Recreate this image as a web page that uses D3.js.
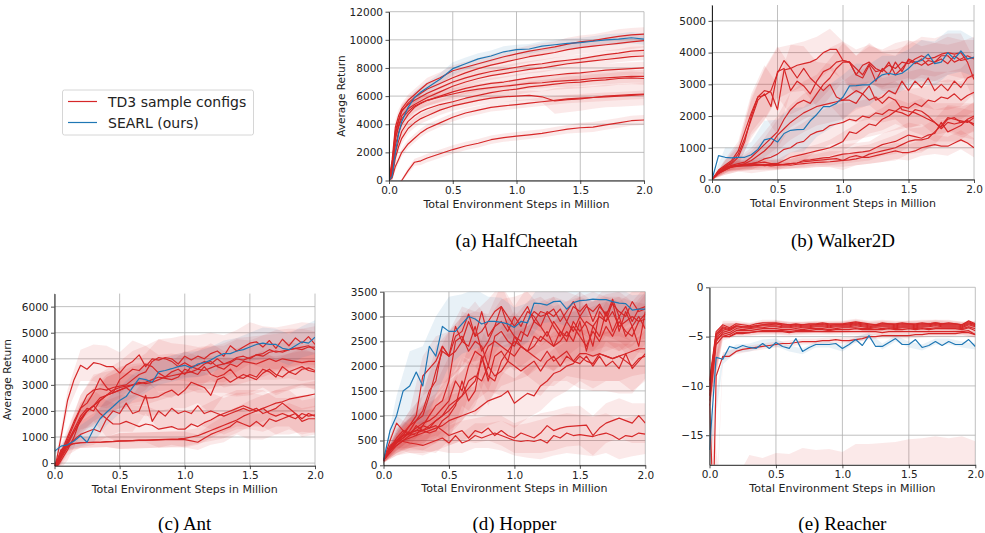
<!DOCTYPE html>
<html><head><meta charset="utf-8">
<script src="https://cdn.jsdelivr.net/npm/d3@7"></script>
<style>body{margin:0;background:#fff}svg{display:block}</style>
</head><body><svg id="c" width="985" height="533"></svg>
<script>
// ---------------- DATA ----------------
const xTicks = [0, 0.5, 1.0, 1.5, 2.0];
const hcX = [0,0.025,0.05,0.075,0.1,0.15,0.2,0.25,0.3,0.4,0.5,0.6,0.7,0.8,0.9,1.0,1.1,1.2,1.3,1.4,1.5,1.6,1.7,1.8,1.9,2.0];
const gridX = [0,0.05,0.1,0.15,0.2,0.25,0.3,0.35,0.4,0.45,0.5,0.55,0.6,0.65,0.7,0.75,0.8,0.85,0.9,0.95,1.0,1.05,1.1,1.15,1.2,1.25,1.3,1.35,1.4,1.45,1.5,1.55,1.6,1.65,1.7,1.75,1.8,1.85,1.9,1.95,2.0];

// (a) HalfCheetah
const hcYTicks = [0,2000,4000,6000,8000,10000,12000];
const hcBlue = [0,300,2000,3300,4200,5200,5900,6300,6600,7200,7950,8300,8650,8850,9150,9300,9350,9550,9650,9750,9800,9900,10000,10050,10150,10050];
const hcBlueStd = [0,300,400,400,400,400,400,400,400,400,450,450,400,400,400,350,350,350,350,350,350,350,400,400,400,400];
const hcRed = [
 [0,1500,3800,4600,5100,5700,6100,6500,6900,7300,7800,8050,8300,8550,8800,9000,9200,9350,9500,9700,9850,9950,10100,10250,10350,10400],
 [0,1200,3500,4300,4900,5500,5900,6200,6500,6900,7300,7650,7950,8200,8400,8600,8800,8950,9100,9300,9450,9550,9650,9750,9850,9950],
 [0,1000,3300,4200,5000,5400,5700,5950,6200,6600,7000,7300,7550,7750,7900,8050,8200,8300,8450,8550,8650,8800,8950,9050,9200,9250],
 [0,800,3000,3900,4600,5100,5400,5650,5900,6300,6700,7000,7250,7450,7600,7750,7900,8000,8150,8300,8400,8500,8600,8700,8800,8850],
 [0,700,3000,3800,4400,4900,5300,5500,5700,6000,6300,6550,6750,6900,7000,7150,7300,7400,7500,7600,7650,7750,7850,7900,7950,8000],
 [0,500,2500,3400,4000,4700,5200,5500,5700,5950,6150,6350,6500,6600,6700,6800,6900,6950,7050,7100,7150,7250,7300,7350,7400,7400],
 [0,400,2000,2800,3500,4200,4600,4900,5100,5400,5600,5850,6050,6250,6400,6500,6650,6750,6850,6950,7000,7100,7150,7250,7300,7250],
 [0,300,1600,2400,3000,3700,4100,4400,4600,5000,5300,5500,5700,5850,5950,6000,6050,5950,5650,5750,5800,5900,6000,6050,6100,6150],
 [0,200,1000,1500,2000,2600,3000,3400,3700,4100,4500,4800,5000,5200,5300,5400,5500,5600,5700,5800,5850,5900,5950,6000,6050,6100],
 [-700,-550,-400,-200,0,700,1300,1400,1600,1900,2200,2450,2650,2900,3050,3150,3250,3350,3500,3650,3750,3800,3950,4100,4250,4300]
];
const hcStdTop = [0,400,500,450,400,400,400,400,400,400,400,400,400,400,400,400,400,400,400,450,450,450,450,500,500,500];
const hcStdMid = [0,400,500,400,400,350,350,350,350,300,300,300,300,300,300,300,300,300,300,300,300,300,300,300,300,300];
const hcStdLow = [0,300,400,400,400,400,400,400,400,400,400,400,400,400,400,400,400,400,400,450,450,450,450,450,450,450];
const hcStdDip = [0,300,400,400,400,350,350,350,350,350,350,350,350,350,350,350,350,400,900,900,850,800,800,800,800,800];
const hcStdSlow = [0,200,300,300,300,300,300,300,300,300,300,300,300,300,300,300,300,300,300,300,300,300,300,300,300,300];
const hcStdLast = [100,100,100,100,100,200,250,300,300,300,300,300,300,300,300,300,300,300,300,300,350,350,350,350,350,350];
const hcRedStd = [hcStdTop,hcStdTop,hcStdMid,hcStdMid,hcStdLow,hcStdLow,hcStdLow,hcStdDip,hcStdSlow,hcStdLast];

// (b) Walker2D
const wYTicks = [0,1000,2000,3000,4000,5000];
const wBlue = [0,750,700,680,700,700,780,950,1250,1300,1180,1450,1550,1570,1580,1850,2050,2300,2300,2400,2600,2950,2960,2980,2980,3150,3300,3350,3300,3350,3500,3700,3750,3950,3650,3700,4000,3800,4050,3800,3850];
const wBlueStd = [0,300,300,400,600,700,700,700,700,700,700,700,650,600,600,600,650,700,700,650,600];
const wRed = [
 [0,300,450,600,900,1500,2100,2600,2800,2750,2200,3450,3500,3600,3650,3700,3800,4000,4100,4100,3750,3700,3500,3300,3650,3400,3450,3600,3500,3700,3650,3800,3900,3800,3850,3950,4000,3950,4000,3700,3150],
 [0,250,400,550,800,1300,1900,2500,2700,2300,3400,3500,2800,3100,2950,2700,3100,3400,3500,3700,3750,3700,3300,3600,3700,3500,3400,3700,3300,3500,3750,3650,3800,3600,3700,3800,3650,3900,3750,3800,3850],
 [0,250,400,500,700,1200,2000,2600,2650,2800,3350,3750,3500,3200,3500,3200,3000,2800,3000,2600,2500,2500,2400,2700,2500,2600,2400,2600,2500,2200,2150,2100,2000,1900,1800,1600,1800,1750,1800,1850,1750],
 [0,200,350,450,500,550,700,900,1100,1300,1500,1900,2200,2400,2500,2400,2700,3000,3200,3500,3700,3700,3300,3200,3600,3100,3500,3300,3700,3400,3800,3700,3600,3750,3700,3900,3900,3700,3800,3900,3800],
 [0,200,300,400,450,500,600,750,900,1100,1400,1600,1800,1950,2100,2200,2300,2350,2400,2450,2500,2650,2800,2700,2950,2500,2600,2800,2700,3100,2800,3100,2900,3200,2800,3000,2800,3100,2900,3200,3300],
 [0,200,300,400,450,450,500,550,650,700,800,950,1000,1150,1200,1400,1500,1550,1700,1750,1800,1900,1850,2000,1950,2100,2050,2200,2150,2300,2250,2400,2300,2500,2450,2600,2550,2700,2500,2650,2750],
 [0,200,350,400,420,450,450,460,470,480,450,480,500,520,600,620,650,680,700,750,800,820,850,870,900,1000,1100,1150,1200,1300,1400,1350,1300,1400,1450,1800,1500,1600,1700,1900,2000],
 [0,250,380,420,440,450,460,470,440,460,480,470,500,520,560,580,600,620,640,660,600,700,750,700,800,850,900,950,1000,1100,1200,1250,1250,1300,1500,1700,1950,1900,1850,1800,1950],
 [0,200,350,400,420,430,440,450,460,430,450,470,450,480,500,520,540,550,560,580,600,620,650,700,700,750,800,850,900,850,850,900,1000,1050,1100,1050,1050,1150,1250,1150,1000],
 [0,250,380,420,450,480,500,520,550,500,500,600,700,750,800,850,900,950,1000,1100,1200,1500,1450,1600,1750,1700,1900,2000,2150,2100,2000,2200,2150,2000,1800,1650,1900,1950,1800,1850,1700]
];
const wStdFast = [0,200,300,600,800,800,750,700,700,650,600,600,600,600,600,600,600,600,600,600,650];
const wStdMid = [0,150,200,300,400,500,550,600,600,600,600,600,600,600,600,600,600,600,600,600,600];
const wStdSlow = [0,100,150,150,150,150,150,200,200,250,300,300,300,350,400,400,400,400,400,450,450];
const wStdLow = [0,100,100,100,100,100,100,150,150,150,200,200,200,250,250,250,250,300,300,300,300];
const wRedStd = [wStdFast,wStdFast,wStdFast,wStdMid,wStdMid,wStdMid,wStdSlow,wStdSlow,wStdLow,wStdSlow];

// (c) Ant
const aYTicks = [0,1000,2000,3000,4000,5000,6000];
const aBlue = [450,650,700,850,1050,800,1300,1700,1950,2170,2400,2550,2900,3250,3200,3100,3500,3550,3620,3700,3750,3650,3800,3850,3950,4100,4200,4200,4300,4350,4450,4550,4600,4550,4550,4400,4350,4500,4650,4600,4830];
const aBlueStd = [100,200,400,500,500,500,500,500,500,500,500,500,500,500,500,550,600,600,600,600,650];
const aRed = [
 [-300,1000,2400,3200,3750,3600,3850,3800,3700,3700,3450,3750,3900,4150,3700,4000,3950,4050,4000,3800,4100,3950,4100,4000,4200,4300,4100,4500,4300,4450,4600,4650,4450,4700,4400,4750,4500,4800,4600,4850,4550],
 [-300,300,900,1500,2100,2600,2800,2850,2800,2900,2950,3000,3200,3400,3500,3900,4050,4000,3900,3700,3850,3700,3750,3900,3800,4000,3800,3900,4050,4100,4000,4150,4200,4350,4250,4300,4350,4400,4450,4500,4350],
 [-100,400,1000,1600,2100,2300,2700,3250,2900,2700,3200,3400,3600,3550,3800,3700,3450,3300,3500,3600,3400,3700,3600,3800,3900,3700,3600,3800,3700,3900,3850,3800,3900,4000,3900,4000,3950,3900,3850,3900,3900],
 [-200,200,700,1200,1700,2000,2200,2500,2600,2700,2800,2900,3000,3050,3100,3200,3300,3250,3200,3300,3600,3500,3400,3700,3400,3300,3400,3600,3300,3250,3400,3300,3600,3500,3300,3700,3500,3400,3600,3650,3550],
 [-200,300,800,1300,1800,2100,2000,2400,2600,2700,2800,2900,2700,2600,2500,2500,2550,2700,2800,2600,2800,3100,3000,2900,2600,3200,3300,3100,3250,3400,3300,3200,3450,3600,3400,3300,3500,3600,3700,3550,3500],
 [-200,500,700,750,780,790,800,800,820,830,850,850,860,880,870,890,900,910,920,930,950,1000,1050,1150,1250,1350,1450,1550,1650,1800,1900,2000,2100,2200,2300,2350,2450,2500,2550,2600,2650],
 [-300,300,800,1200,1600,2000,2200,1900,1700,2000,1900,2300,1900,2000,2600,1600,2000,1800,2100,1900,2000,1900,2200,1900,2000,1900,1800,1900,2000,2100,2000,2100,1900,2000,2100,2300,2100,1900,1700,1900,1800],
 [-300,200,600,900,1100,1200,1300,1200,1700,1500,1500,1600,1500,1400,1500,1450,1300,1350,1400,1300,1300,1500,1400,1550,1650,1800,1900,2000,2100,2200,2100,2000,2100,1900,1800,1900,1800,1700,1900,1800,1850],
 [-300,500,650,750,780,790,800,800,810,820,840,850,860,870,880,880,890,900,900,900,900,850,800,950,1100,1200,1300,1400,1600,1500,1400,1600,1400,1700,1600,1700,1800,1900,1600,1700,1700],
 [-300,100,500,1000,1700,2000,2200,2400,2600,2800,2900,2950,3000,3100,3050,3100,3200,3300,3350,3400,3450,3500,3600,3550,3650,3750,3800,3850,4000,3950,4050,4150,4100,4250,4300,4250,4350,4400,4350,4450,4450]
];
const aStdHi = [200,400,600,700,800,800,800,800,800,800,800,800,800,800,800,800,800,800,800,800,800];
const aStdMid = [200,300,500,600,700,700,700,700,700,700,700,700,700,700,700,700,700,700,700,700,700];
const aStdLow = [200,200,200,200,200,300,300,300,300,300,300,300,400,500,500,500,500,500,500,500,500];
const aRedStd = [aStdHi,aStdMid,aStdMid,aStdMid,aStdMid,aStdLow,aStdMid,aStdMid,aStdLow,aStdHi];

// (d) Hopper
const hYTicks = [0,500,1000,1500,2000,2500,3000,3500];
const hBlue = [100,700,1000,1500,1600,1880,1600,2400,2200,2800,2700,2700,2850,3000,2950,2850,2900,2900,2880,2850,2780,2900,2870,3270,3260,3230,3300,3310,3150,3280,3320,3330,3350,3340,3340,3300,3270,3260,3130,3150,3150];
const hBlueStd = [50,400,700,800,800,700,600,600,500,500,400,400,400,400,350,350,300,300,300,300,300];
const hRed = [
 [100,300,500,600,800,1000,1800,1950,2100,2400,2200,2600,2700,3050,2600,3100,2600,2800,3200,3000,2800,3000,3200,2900,3100,3050,3150,2900,3100,3300,3000,3200,3100,3250,3000,3350,3000,3200,2900,3150,3200],
 [100,300,450,550,700,900,1100,1500,1700,2400,2200,2300,2500,2900,2600,2700,2900,3100,3200,2800,2600,2500,2900,3100,3000,3050,2800,2600,2900,2700,3000,2800,2400,3100,2900,3300,2700,3100,2800,2400,3100],
 [100,350,500,600,650,700,800,1000,1200,1300,1700,2500,2600,2300,2500,2400,2000,2600,2700,2500,2400,2700,2600,2900,2800,2600,2900,2700,2500,2900,2700,2900,2800,3000,2900,3100,2800,2900,3000,2900,3050],
 [100,300,450,550,650,750,850,900,1000,1150,1300,1700,1500,2000,2300,2200,1700,2200,2300,2100,2600,2400,2300,2600,2500,2700,2400,2500,2700,2500,2900,2300,2800,2600,3100,2700,3000,2600,2800,3000,2750],
 [100,250,400,500,600,650,700,650,700,900,1000,1200,1700,1300,1500,2200,1800,1700,2100,2300,2200,2400,2300,2400,2600,2500,2400,2700,2600,2800,2600,2400,2700,2500,2800,2600,2900,2700,2600,2900,2950],
 [100,300,450,600,650,700,700,800,900,1000,1100,1250,1400,1550,1700,2100,2400,2500,2400,2300,2500,2400,2300,2200,2100,2300,2100,2200,2300,2100,2250,2250,2200,2250,2200,2150,2200,2250,2300,2350,2350],
 [100,350,550,700,650,600,800,750,900,1000,1200,1300,1400,1700,1800,1700,2000,1800,1900,2100,2000,1900,2000,2100,1900,2100,2200,2000,2200,2100,2050,2200,2000,2200,2000,2100,1950,2250,1950,2100,2250],
 [100,300,400,500,550,600,650,700,750,800,900,950,1000,1050,1100,1200,1300,1350,1400,1500,1250,1350,1450,1400,1600,1700,1850,1900,2000,2050,2200,2100,2050,2250,2200,2150,2200,2100,2000,2150,2200],
 [100,500,850,700,600,800,700,750,800,700,600,650,700,550,700,650,750,600,700,600,550,650,600,550,650,800,700,750,780,790,800,810,600,750,850,900,950,900,850,1000,850],
 [100,400,500,480,450,430,400,450,500,550,450,600,450,500,600,550,600,650,600,550,500,480,500,480,520,450,600,550,650,600,620,600,580,620,650,600,520,600,580,650,630],
 [100,300,500,650,800,900,1000,1400,1900,2300,2200,2800,2500,2400,2800,2300,2500,2800,2900,2700,3000,2800,3100,3000,2800,3100,3000,3150,2900,3200,3100,3250,2900,3200,3050,3250,3100,3000,3300,3100,3150]
];
const hStdHi = [50,200,300,400,500,500,500,500,450,450,400,400,400,400,400,400,400,400,400,400,400];
const hStdMid = [50,200,300,400,450,500,500,500,500,500,500,500,500,500,500,500,500,500,500,500,500];
const hStdLow = [50,150,200,200,200,200,200,250,250,300,300,350,400,400,400,400,400,400,400,400,400];
const hRedStd = [hStdHi,hStdHi,hStdMid,hStdMid,hStdMid,hStdMid,hStdMid,hStdMid,hStdLow,hStdLow,hStdHi];

// (e) Reacher
const eYTicks = [0,-5,-10,-15];
const eBlue = [-16.5,-7.1,-7.3,-6.0,-6.2,-5.9,-6.1,-6.2,-5.7,-6.2,-5.6,-6.0,-6.2,-5.2,-6.5,-6.1,-5.8,-5.8,-5.8,-5.7,-6.2,-5.8,-5.3,-5.9,-4.9,-6.0,-6.0,-5.6,-5.2,-5.8,-5.8,-5.3,-6.1,-5.9,-5.5,-5.9,-5.5,-5.8,-5.8,-5.3,-6.0];
const eBlueStd = [1.5,0.5,0.4,0.4,0.4,0.4,0.3,0.3,0.3,0.3,0.3,0.3,0.3,0.3,0.3,0.3,0.3,0.3,0.3,0.3,0.3];
const eRed = [
 [-9.5,-4.5,-3.8,-4.1,-3.7,-3.8,-3.9,-3.7,-3.6,-3.6,-3.6,-3.7,-3.8,-3.7,-3.8,-3.7,-3.7,-3.6,-3.7,-3.7,-3.7,-3.6,-3.5,-3.6,-3.7,-3.8,-3.6,-3.7,-3.7,-3.6,-3.7,-3.7,-3.6,-3.7,-3.6,-3.7,-3.6,-3.7,-3.8,-3.4,-3.7],
 [-10,-4.7,-4.0,-4.2,-3.9,-4.0,-4.0,-3.9,-3.8,-3.8,-3.7,-3.9,-3.9,-3.8,-3.9,-3.9,-3.8,-3.8,-3.9,-3.8,-3.8,-3.8,-3.7,-3.8,-3.9,-3.9,-3.8,-3.8,-3.9,-3.8,-3.8,-3.9,-3.8,-3.8,-3.7,-3.8,-3.8,-3.8,-3.9,-3.6,-3.8],
 [-10.5,-5.0,-4.2,-4.4,-4.0,-4.1,-4.1,-4.0,-3.9,-3.9,-3.9,-4.0,-4.0,-3.9,-4.0,-4.0,-3.9,-3.9,-4.0,-3.9,-3.9,-3.9,-3.8,-3.9,-4.0,-3.9,-3.9,-3.9,-4.0,-3.9,-3.9,-4.0,-3.9,-3.9,-3.8,-3.9,-3.9,-3.9,-4.0,-3.7,-3.9],
 [-11,-5.2,-4.4,-4.6,-4.2,-4.3,-4.2,-4.1,-4.1,-4.0,-4.0,-4.1,-4.1,-4.0,-4.1,-4.1,-4.0,-4.0,-4.1,-4.0,-4.0,-4.0,-3.9,-4.0,-4.1,-4.0,-4.0,-4.0,-4.1,-4.0,-4.0,-4.1,-4.0,-4.0,-3.9,-4.0,-4.0,-4.0,-4.1,-3.8,-4.0],
 [-11.5,-5.5,-4.6,-4.8,-4.4,-4.4,-4.4,-4.3,-4.2,-4.2,-4.2,-4.3,-4.3,-4.2,-4.3,-4.2,-4.2,-4.2,-4.3,-4.2,-4.1,-4.1,-4.1,-4.2,-4.2,-4.1,-4.2,-4.1,-4.2,-4.1,-4.1,-4.2,-4.1,-4.2,-4.1,-4.1,-4.1,-4.1,-4.2,-4.0,-4.2],
 [-12,-5.8,-5.0,-5.0,-4.7,-4.7,-4.6,-4.5,-4.4,-4.4,-4.4,-4.4,-4.5,-4.4,-4.4,-4.4,-4.3,-4.3,-4.4,-4.3,-4.3,-4.3,-4.2,-4.3,-4.3,-4.3,-4.3,-4.2,-4.3,-4.3,-4.2,-4.3,-4.2,-4.3,-4.2,-4.2,-4.2,-4.2,-4.3,-4.1,-4.4],
 [-9.8,-4.8,-4.1,-4.3,-3.9,-4.0,-4.0,-3.9,-3.8,-3.7,-3.7,-3.8,-3.8,-3.8,-3.8,-3.8,-3.8,-3.7,-3.8,-3.8,-3.8,-3.7,-3.6,-3.7,-3.8,-3.8,-3.7,-3.7,-3.8,-3.7,-3.7,-3.8,-3.7,-3.7,-3.6,-3.7,-3.7,-3.7,-3.8,-3.5,-3.8],
 [-40,-9.0,-7.0,-7.0,-6.5,-6.3,-6.2,-6.1,-6.0,-5.9,-5.8,-5.7,-5.7,-5.6,-5.5,-5.5,-5.5,-5.4,-5.4,-5.3,-5.4,-5.4,-5.3,-5.2,-5.0,-5.0,-4.9,-4.9,-4.9,-4.9,-4.9,-4.8,-4.8,-4.7,-4.7,-4.7,-4.7,-4.7,-4.6,-4.6,-4.8],
 [-11,-5.3,-4.8,-5.0,-4.6,-4.6,-4.6,-4.5,-4.5,-4.5,-4.5,-4.5,-4.6,-4.5,-4.5,-4.5,-4.5,-4.5,-4.5,-4.5,-4.5,-4.5,-4.5,-4.5,-4.5,-4.5,-4.6,-4.5,-4.5,-4.5,-4.5,-4.5,-4.5,-4.5,-4.5,-4.5,-4.5,-4.5,-4.5,-4.4,-4.8],
 [-11.8,-30,-28,-27,-26,-25,-24,-24,-23.5,-23,-23,-23,-22.8,-22.8,-22.5,-22.5,-22.3,-22.5,-22.4,-22.3,-22.5,-22,-21.8,-21.8,-21.7,-21.6,-21.6,-21.5,-21.4,-21.3,-21.2,-21.1,-21.0,-20.8,-20.9,-21,-21.1,-21.0,-20.9,-20.9,-21.3]
];
const eStd = [1.0,0.4,0.3,0.3,0.3,0.3,0.3,0.3,0.3,0.3,0.3,0.3,0.3,0.3,0.3,0.3,0.3,0.3,0.3,0.3,0.3];
const eStdLow = [1,6,6.5,7,6.2,6.2,5.9,6.2,5.8,6.0,5.8,5.9,5.8,5.8,5.7,5.8,5.7,5.8,5.8,5.8,5.7];
const eRedStd = [eStd,eStd,eStd,eStd,eStd,eStd,eStd,eStd,eStd,eStdLow];

const titles = ["(a) HalfCheetah","(b) Walker2D","(c) Ant","(d) Hopper","(e) Reacher"];
const legendLabels = ["TD3 sample configs","SEARL (ours)"];
const xLabel = "Total Environment Steps in Million";
const yLabel = "Average Return";

// ---------------- DRAW ----------------
const RED = "#d62728", BLUE = "#1f77b4";
const FONT = "DejaVu Sans";
const svg = d3.select("#c");

const panels = [
 {id:"a", x:hcX, red:hcRed, redStd:hcRedStd, blue:hcBlue, blueStd:hcBlueStd, yDom:[0,12000], yTicks:hcYTicks, L:389, R:644, T:11.7, B:180.5, ylab:true, title:titles[0]},
 {id:"b", x:gridX, red:wRed, redStd:wRedStd, blue:wBlue, blueStd:wBlueStd, yDom:[0,5500], yTicks:wYTicks, L:712, R:974, T:5, B:179.5, ylab:false, title:titles[1]},
 {id:"c", x:gridX, red:aRed, redStd:aRedStd, blue:aBlue, blueStd:aBlueStd, yDom:[-100,6500], yTicks:aYTicks, L:54.5, R:315, T:293.6, B:465.7, ylab:true, title:titles[2]},
 {id:"d", x:gridX, red:hRed, redStd:hRedStd, blue:hBlue, blueStd:hBlueStd, yDom:[0,3500], yTicks:hYTicks, L:383.5, R:645.3, T:291.7, B:465.3, ylab:false, title:titles[3]},
 {id:"e", x:gridX, red:eRed, redStd:eRedStd, blue:eBlue, blueStd:eBlueStd, yDom:[-18,0], yTicks:eYTicks, L:709.5, R:975.3, T:287.3, B:464.8, ylab:false, title:titles[4]}
];

function bandPoints(xs, mean, std){
  const step = (mean.length-1)/(std.length-1);
  return std.map((s,k)=>{const i=Math.round(k*step); return {x:xs[i], m:mean[i], s:s};});
}

panels.forEach(p=>{
  const x = d3.scaleLinear().domain([0,2]).range([p.L,p.R]);
  const y = d3.scaleLinear().domain(p.yDom).range([p.B,p.T]);
  const g = svg.append("g");
  const cid = "clip_"+p.id;
  svg.append("clipPath").attr("id",cid).append("rect")
    .attr("x",p.L).attr("y",p.T).attr("width",p.R-p.L).attr("height",p.B-p.T);

  const grid = g.append("g").attr("stroke","#b0b0b0").attr("stroke-width",0.8);
  grid.selectAll(".gx").data(xTicks).join("line")
    .attr("x1",d=>x(d)).attr("x2",d=>x(d)).attr("y1",p.T).attr("y2",p.B);
  grid.selectAll(".gy").data(p.yTicks).join("line")
    .attr("x1",p.L).attr("x2",p.R).attr("y1",d=>y(d)).attr("y2",d=>y(d));

  const plot = g.append("g").attr("clip-path",`url(#${cid})`);
  const area = d3.area().x(d=>x(d.x)).y0(d=>y(d.m-d.s)).y1(d=>y(d.m+d.s));
  const line = d3.line().x((d,i)=>x(p.x[i])).y(d=>y(d));

  p.red.forEach((s,i)=>{
    plot.append("path").attr("d",area(bandPoints(p.x,s,p.redStd[i])))
      .attr("fill",RED).attr("fill-opacity",0.1).attr("stroke","none");
  });
  plot.append("path").attr("d",area(bandPoints(p.x,p.blue,p.blueStd)))
    .attr("fill",BLUE).attr("fill-opacity",0.1).attr("stroke","none");
  p.red.forEach(s=>{
    plot.append("path").attr("d",line(s)).attr("fill","none")
      .attr("stroke",RED).attr("stroke-width",1.2).attr("stroke-linejoin","round");
  });
  plot.append("path").attr("d",line(p.blue)).attr("fill","none")
    .attr("stroke",BLUE).attr("stroke-width",1.2).attr("stroke-linejoin","round");

  const fmtY = d3.format("d");
  const ax = g.append("g").attr("transform",`translate(${p.L},0)`)
    .call(d3.axisLeft(y).tickValues(p.yTicks).tickSize(3.5).tickSizeOuter(0).tickPadding(2.5).tickFormat(fmtY));
  const bx = g.append("g").attr("transform",`translate(0,${p.B})`)
    .call(d3.axisBottom(x).tickValues(xTicks).tickSize(3.5).tickSizeOuter(0).tickPadding(2.5).tickFormat(d3.format(".1f")));
  [ax,bx].forEach(a=>{
    a.selectAll("text").attr("font-family",FONT).attr("font-size",10.5).attr("fill","#222");
    a.selectAll("line").attr("stroke","#222").attr("stroke-width",0.8);
    a.select(".domain").attr("stroke","#222").attr("stroke-width",1);
  });
  g.append("text").attr("x",(p.L+p.R)/2).attr("y",p.B+27).attr("text-anchor","middle")
    .attr("font-family",FONT).attr("font-size",11).attr("fill","#222").text(xLabel);
  if(p.ylab){
    const cx = p.L - 44, cy = (p.T+p.B)/2;
    g.append("text").attr("transform",`translate(${cx},${cy}) rotate(-90)`).attr("text-anchor","middle")
      .attr("font-family",FONT).attr("font-size",10.5).attr("fill","#222").text(yLabel);
  }
  const ty = p.B < 300 ? 247 : 530;
  svg.append("text").attr("x",(p.L+p.R)/2).attr("y",ty).attr("text-anchor","middle")
    .attr("font-family","Liberation Serif").attr("font-size",19).attr("fill","#000").text(p.title);
});

// legend
const lg = svg.append("g");
lg.append("rect").attr("x",62.5).attr("y",90).attr("width",191).attr("height",45).attr("rx",2)
  .attr("fill","#fff").attr("stroke","#ccc").attr("stroke-width",0.8);
[RED,BLUE].forEach((c,i)=>{
  const yy = 101.5 + i*21;
  lg.append("line").attr("x1",68).attr("x2",97).attr("y1",yy).attr("y2",yy).attr("stroke",c).attr("stroke-width",1.2);
  lg.append("text").attr("x",108).attr("y",yy+5).attr("font-family",FONT).attr("font-size",14).attr("fill","#222").text(legendLabels[i]);
});
</script></body></html>
